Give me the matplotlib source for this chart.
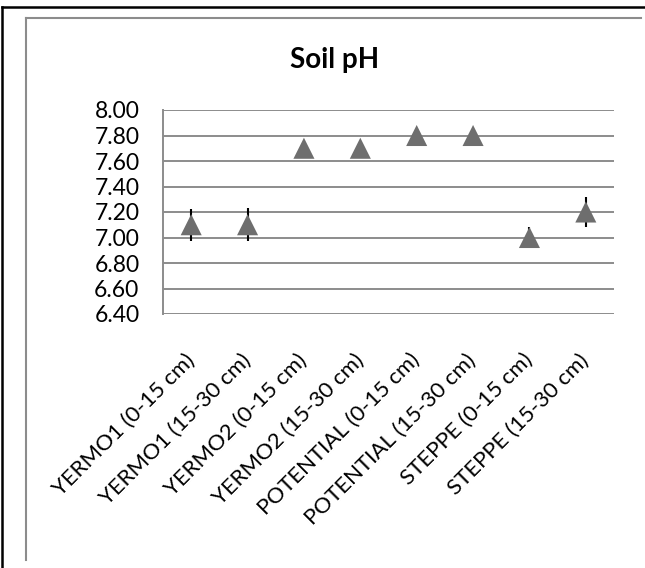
import matplotlib
matplotlib.use('Agg')
import matplotlib.pyplot as plt
from matplotlib.lines import Line2D

# Soil pH by site and depth
categories = [
    'YERMO1 (0-15 cm)', 'YERMO1 (15-30 cm)',
    'YERMO2 (0-15 cm)', 'YERMO2 (15-30 cm)',
    'POTENTIAL (0-15 cm)', 'POTENTIAL (15-30 cm)',
    'STEPPE (0-15 cm)', 'STEPPE (15-30 cm)',
]
ph_mean = [7.10, 7.10, 7.70, 7.70, 7.80, 7.80, 7.00, 7.20]
ph_err = [0.125, 0.13, 0.0, 0.0, 0.0, 0.0, 0.085, 0.12]
y_ticks = [6.40, 6.60, 6.80, 7.00, 7.20, 7.40, 7.60, 7.80, 8.00]

W, H = 645, 568
plt.rcParams['font.family'] = ['Lato', 'DejaVu Sans']

fig = plt.figure(figsize=(W / 100, H / 100), dpi=100)


def fx(px):
    return px / W


def fy(py):
    return 1 - py / H


# outer (black) and inner (gray) frames, cropped at right/bottom
fig.add_artist(Line2D([fx(1.5), fx(1.5)], [fy(7), fy(H)], color='black', lw=1.8))
fig.add_artist(Line2D([fx(1.5), fx(W)], [fy(7), fy(7)], color='black', lw=1.8))
fig.add_artist(Line2D([fx(25.5), fx(25.5)], [fy(18), fy(560)], color='#8c8c8c', lw=1.5))
fig.add_artist(Line2D([fx(25.5), fx(641)], [fy(18), fy(18)], color='#8c8c8c', lw=1.5))

ax = fig.add_axes([fx(163), fy(314), fx(614) - fx(163), fy(110) - fy(314)])
x = list(range(len(categories)))

ax.errorbar(x, ph_mean, yerr=ph_err, fmt='none', ecolor='black', elinewidth=1.5, capsize=0, zorder=3)
ax.scatter(x, ph_mean, marker='^', s=230, color='#6e6e6e', edgecolors='none', zorder=4)

ax.set_xlim(-0.5, len(categories) - 0.5)
ax.set_ylim(6.40, 8.00)
ax.set_yticks(y_ticks)
ax.set_yticklabels([f'{v:.2f}' for v in y_ticks], fontsize=16.5)
ax.yaxis.grid(True, color='#8c8c8c', lw=1.4)
ax.set_axisbelow(True)
ax.tick_params(axis='y', length=0, pad=17)
ax.tick_params(axis='x', length=0, pad=31)
ax.set_xticks(x)
ax.set_xticklabels(categories, rotation=45, ha='right', va='center',
                   rotation_mode='anchor', fontsize=16)

for side in ['top', 'right', 'bottom']:
    ax.spines[side].set_visible(False)
ax.spines['left'].set_color('#8c8c8c')
ax.spines['left'].set_linewidth(1.4)

fig.text(fx(335), fy(68), 'Soil pH', ha='center', va='baseline', fontsize=20, fontweight='bold')

fig.savefig('out.png', dpi=100)
